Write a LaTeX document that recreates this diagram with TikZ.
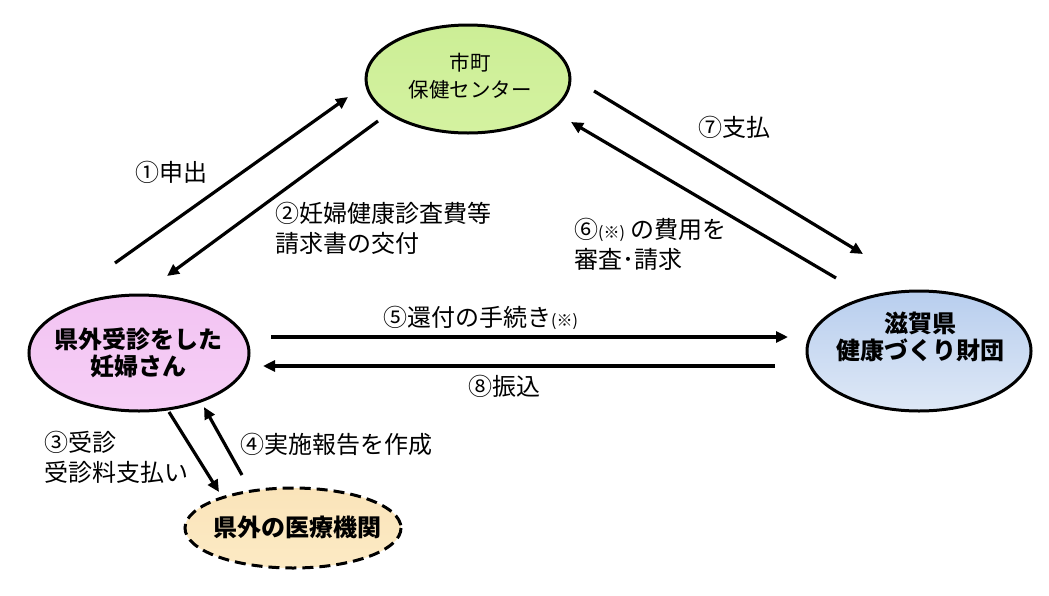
\documentclass[tikz,border=0pt]{standalone}
\usepackage{fontspec}
\setmainfont{Noto Sans CJK JP}
\usetikzlibrary{arrows.meta}
\definecolor{gTop}{RGB}{204,238,150}
\definecolor{gBot}{RGB}{212,242,160}
\definecolor{pTop}{RGB}{242,196,242}
\definecolor{pBot}{RGB}{246,206,246}
\definecolor{bTop}{RGB}{184,206,238}
\definecolor{bBot}{RGB}{222,232,246}
\definecolor{yTop}{RGB}{250,228,186}
\definecolor{yBot}{RGB}{252,234,196}
\tikzset{
  lbl/.style={anchor=west, align=left, font=\fontsize{24}{30}\selectfont, inner sep=0pt},
  etxt/.style={align=center, font=\fontsize{24}{27}\selectfont\bfseries, inner sep=0pt},
  conn/.style={line width=3.2pt, -{Triangle[length=12pt,width=11pt]}},
  eline/.style={draw=black, line width=3pt},
}
\begin{document}
\begin{tikzpicture}[x=1pt,y=-1pt]
\useasboundingbox (0,0) rectangle (1049,595);
% ellipses
\shade[top color=gTop, bottom color=gBot, eline] (468,79) ellipse [x radius=102, y radius=54];
\node (top) at (470,76) [align=center, font=\fontsize{20.5}{27}\selectfont, inner sep=0pt] {市町\\保健センター};
\shade[top color=pTop, bottom color=pBot, eline] (139,353) ellipse [x radius=110, y radius=58];
\node (left) at (138,353) [etxt] {県外受診をした\\妊婦さん};
\shade[top color=bTop, bottom color=bBot, eline] (919,351) ellipse [x radius=112, y radius=60];
\node (right) at (920,337) [etxt] {滋賀県\\健康づくり財団};
\shade[top color=yTop, bottom color=yBot, eline, dash pattern=on 11pt off 6pt] (293,528) ellipse [x radius=108, y radius=40];
\node (bottom) at (297,527) [etxt] {県外の医療機関};
% connector coordinates
\coordinate (p1s) at (115,263); \coordinate (p1e) at (348,97);
\coordinate (p2s) at (378,121); \coordinate (p2e) at (167,276);
\coordinate (p7s) at (594,91);  \coordinate (p7e) at (863,254);
\coordinate (p6s) at (836,278); \coordinate (p6e) at (571,122);
\coordinate (p5s) at (271,337); \coordinate (p5e) at (788,337);
\coordinate (p8s) at (775,366); \coordinate (p8e) at (263,366);
\coordinate (p3s) at (169,412); \coordinate (p3e) at (219,492);
\coordinate (p4s) at (242,475); \coordinate (p4e) at (204,407);
\draw[conn] (p1s) -- (p1e);
\draw[conn] (p2s) -- (p2e);
\draw[conn] (p7s) -- (p7e);
\draw[conn] (p6s) -- (p6e);
\draw[conn] (p5s) -- (p5e);
\draw[conn] (p8s) -- (p8e);
\draw[conn] (p3s) -- (p3e);
\draw[conn] (p4s) -- (p4e);
% labels
\node (l1) at (135,172) [lbl] {①申出};
\node (l2) at (275,228) [lbl] {②妊婦健康診査費等\\請求書の交付};
\node (l7) at (698,127) [lbl] {⑦支払};
\node (l6) at (574,244) [lbl] {⑥{\fontsize{16}{16}\selectfont (※)} の費用を\\審査･請求};
\node (l5) at (383,318) [lbl] {⑤還付の手続き{\fontsize{16}{16}\selectfont (※)}};
\node (l8) at (468,386) [lbl] {⑧振込};
\node (l3) at (44,457) [lbl] {③受診\\受診料支払い};
\node (l4) at (240,444) [lbl] {④実施報告を作成};
\end{tikzpicture}
\end{document}
